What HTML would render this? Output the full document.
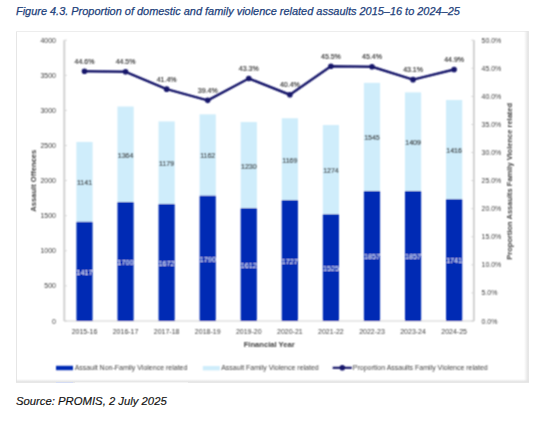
<!DOCTYPE html>
<html><head><meta charset="utf-8"><style>
html,body{margin:0;padding:0;background:#fff;width:538px;height:423px;overflow:hidden;}
body{position:relative;font-family:"Liberation Sans",sans-serif;}
.title{position:absolute;left:16px;top:5px;font-size:10.95px;font-style:italic;color:#21407a;white-space:nowrap;-webkit-text-stroke:0.25px #21407a;}
.src{position:absolute;left:16px;top:394.8px;font-size:11.3px;font-style:italic;color:#111;white-space:nowrap;-webkit-text-stroke:0.15px #111;}
.bl{position:absolute;left:16px;top:31px;width:1px;height:351px;background:#e6e6e6;}
.bt{position:absolute;left:16px;top:31px;width:513px;height:1px;background:#ededed;}
.br{position:absolute;left:524px;top:31px;width:5px;height:351px;background:linear-gradient(to right,rgba(230,230,230,0),#e4e4e4 80%,#e9e9e9);}
.bb{position:absolute;left:16px;top:378.5px;width:513px;height:4px;background:linear-gradient(to bottom,rgba(230,230,230,0),#e2e2e2 75%,#ececec);}
svg{position:absolute;left:0;top:0;}
svg text{font-family:"Liberation Sans",sans-serif;}
svg text.g{stroke:#3a3a3a;stroke-width:0.25;}
</style></head><body>
<div class="title">Figure 4.3. Proportion of domestic and family violence related assaults 2015–16 to 2024–25</div>
<div class="bl"></div><div class="bt"></div><div class="br"></div><div class="bb"></div>
<svg width="538" height="423" viewBox="0 0 538 423">
<defs><filter id="bl" x="0" y="0" width="538" height="423" filterUnits="userSpaceOnUse"><feConvolveMatrix order="3" kernelMatrix="1 2 1 2 4 2 1 2 1" edgeMode="none"/></filter></defs>
<g filter="url(#bl)">
<line x1="64.3" y1="40.2" x2="64.3" y2="321.0" stroke="#d2d2d2" stroke-width="2"/>
<line x1="473.9" y1="40.2" x2="473.9" y2="321.0" stroke="#d2d2d2" stroke-width="2"/>
<line x1="64.3" y1="321.0" x2="473.9" y2="321.0" stroke="#d2d2d2" stroke-width="1.2"/>
<line x1="64.3" y1="321.00" x2="66.8" y2="321.00" stroke="#d2d2d2" stroke-width="1"/>
<text x="56" y="323.50" text-anchor="end" font-size="7" fill="#404040">0</text>
<line x1="64.3" y1="285.90" x2="66.8" y2="285.90" stroke="#d2d2d2" stroke-width="1"/>
<text x="56" y="288.40" text-anchor="end" font-size="7" fill="#404040">500</text>
<line x1="64.3" y1="250.80" x2="66.8" y2="250.80" stroke="#d2d2d2" stroke-width="1"/>
<text x="56" y="253.30" text-anchor="end" font-size="7" fill="#404040">1000</text>
<line x1="64.3" y1="215.70" x2="66.8" y2="215.70" stroke="#d2d2d2" stroke-width="1"/>
<text x="56" y="218.20" text-anchor="end" font-size="7" fill="#404040">1500</text>
<line x1="64.3" y1="180.60" x2="66.8" y2="180.60" stroke="#d2d2d2" stroke-width="1"/>
<text x="56" y="183.10" text-anchor="end" font-size="7" fill="#404040">2000</text>
<line x1="64.3" y1="145.50" x2="66.8" y2="145.50" stroke="#d2d2d2" stroke-width="1"/>
<text x="56" y="148.00" text-anchor="end" font-size="7" fill="#404040">2500</text>
<line x1="64.3" y1="110.40" x2="66.8" y2="110.40" stroke="#d2d2d2" stroke-width="1"/>
<text x="56" y="112.90" text-anchor="end" font-size="7" fill="#404040">3000</text>
<line x1="64.3" y1="75.30" x2="66.8" y2="75.30" stroke="#d2d2d2" stroke-width="1"/>
<text x="56" y="77.80" text-anchor="end" font-size="7" fill="#404040">3500</text>
<line x1="64.3" y1="40.20" x2="66.8" y2="40.20" stroke="#d2d2d2" stroke-width="1"/>
<text x="56" y="42.70" text-anchor="end" font-size="7" fill="#404040">4000</text>
<line x1="471.4" y1="321.00" x2="473.9" y2="321.00" stroke="#d2d2d2" stroke-width="1"/>
<text x="481.5" y="323.50" font-size="7" fill="#404040">0.0%</text>
<line x1="471.4" y1="292.92" x2="473.9" y2="292.92" stroke="#d2d2d2" stroke-width="1"/>
<text x="481.5" y="295.42" font-size="7" fill="#404040">5.0%</text>
<line x1="471.4" y1="264.84" x2="473.9" y2="264.84" stroke="#d2d2d2" stroke-width="1"/>
<text x="481.5" y="267.34" font-size="7" fill="#404040">10.0%</text>
<line x1="471.4" y1="236.76" x2="473.9" y2="236.76" stroke="#d2d2d2" stroke-width="1"/>
<text x="481.5" y="239.26" font-size="7" fill="#404040">15.0%</text>
<line x1="471.4" y1="208.68" x2="473.9" y2="208.68" stroke="#d2d2d2" stroke-width="1"/>
<text x="481.5" y="211.18" font-size="7" fill="#404040">20.0%</text>
<line x1="471.4" y1="180.60" x2="473.9" y2="180.60" stroke="#d2d2d2" stroke-width="1"/>
<text x="481.5" y="183.10" font-size="7" fill="#404040">25.0%</text>
<line x1="471.4" y1="152.52" x2="473.9" y2="152.52" stroke="#d2d2d2" stroke-width="1"/>
<text x="481.5" y="155.02" font-size="7" fill="#404040">30.0%</text>
<line x1="471.4" y1="124.44" x2="473.9" y2="124.44" stroke="#d2d2d2" stroke-width="1"/>
<text x="481.5" y="126.94" font-size="7" fill="#404040">35.0%</text>
<line x1="471.4" y1="96.36" x2="473.9" y2="96.36" stroke="#d2d2d2" stroke-width="1"/>
<text x="481.5" y="98.86" font-size="7" fill="#404040">40.0%</text>
<line x1="471.4" y1="68.28" x2="473.9" y2="68.28" stroke="#d2d2d2" stroke-width="1"/>
<text x="481.5" y="70.78" font-size="7" fill="#404040">45.0%</text>
<line x1="471.4" y1="40.20" x2="473.9" y2="40.20" stroke="#d2d2d2" stroke-width="1"/>
<text x="481.5" y="42.70" font-size="7" fill="#404040">50.0%</text>
<rect x="76.40" y="141.94" width="16.2" height="79.87" fill="#cfedfb"/>
<rect x="76.40" y="221.81" width="16.2" height="99.19" fill="#002bb4"/>
<text x="84.50" y="274.60" text-anchor="middle" font-size="7.2" fill="#ffffff">1417</text>
<text x="84.50" y="185.28" text-anchor="middle" font-size="7" fill="#333" stroke="#333" stroke-width="0.15">1141</text>
<text x="84.50" y="331.8" dy="2.5" text-anchor="middle" font-size="7" fill="#404040">2015-16</text>
<rect x="117.47" y="106.52" width="16.2" height="95.48" fill="#cfedfb"/>
<rect x="117.47" y="202.00" width="16.2" height="119.00" fill="#002bb4"/>
<text x="125.57" y="264.70" text-anchor="middle" font-size="7.2" fill="#ffffff">1700</text>
<text x="125.57" y="157.66" text-anchor="middle" font-size="7" fill="#333" stroke="#333" stroke-width="0.15">1364</text>
<text x="125.57" y="331.8" dy="2.5" text-anchor="middle" font-size="7" fill="#404040">2016-17</text>
<rect x="158.54" y="121.43" width="16.2" height="82.53" fill="#cfedfb"/>
<rect x="158.54" y="203.96" width="16.2" height="117.04" fill="#002bb4"/>
<text x="166.64" y="265.68" text-anchor="middle" font-size="7.2" fill="#ffffff">1672</text>
<text x="166.64" y="166.09" text-anchor="middle" font-size="7" fill="#333" stroke="#333" stroke-width="0.15">1179</text>
<text x="166.64" y="331.8" dy="2.5" text-anchor="middle" font-size="7" fill="#404040">2017-18</text>
<rect x="199.61" y="114.36" width="16.2" height="81.34" fill="#cfedfb"/>
<rect x="199.61" y="195.70" width="16.2" height="125.30" fill="#002bb4"/>
<text x="207.71" y="261.55" text-anchor="middle" font-size="7.2" fill="#ffffff">1790</text>
<text x="207.71" y="158.43" text-anchor="middle" font-size="7" fill="#333" stroke="#333" stroke-width="0.15">1162</text>
<text x="207.71" y="331.8" dy="2.5" text-anchor="middle" font-size="7" fill="#404040">2018-19</text>
<rect x="240.68" y="122.06" width="16.2" height="86.10" fill="#cfedfb"/>
<rect x="240.68" y="208.16" width="16.2" height="112.84" fill="#002bb4"/>
<text x="248.78" y="267.78" text-anchor="middle" font-size="7.2" fill="#ffffff">1612</text>
<text x="248.78" y="168.51" text-anchor="middle" font-size="7" fill="#333" stroke="#333" stroke-width="0.15">1230</text>
<text x="248.78" y="331.8" dy="2.5" text-anchor="middle" font-size="7" fill="#404040">2019-20</text>
<rect x="281.75" y="118.28" width="16.2" height="81.83" fill="#cfedfb"/>
<rect x="281.75" y="200.11" width="16.2" height="120.89" fill="#002bb4"/>
<text x="289.85" y="263.75" text-anchor="middle" font-size="7.2" fill="#ffffff">1727</text>
<text x="289.85" y="162.59" text-anchor="middle" font-size="7" fill="#333" stroke="#333" stroke-width="0.15">1169</text>
<text x="289.85" y="331.8" dy="2.5" text-anchor="middle" font-size="7" fill="#404040">2020-21</text>
<rect x="322.82" y="125.07" width="16.2" height="89.18" fill="#cfedfb"/>
<rect x="322.82" y="214.25" width="16.2" height="106.75" fill="#002bb4"/>
<text x="330.92" y="270.82" text-anchor="middle" font-size="7.2" fill="#ffffff">1525</text>
<text x="330.92" y="173.06" text-anchor="middle" font-size="7" fill="#333" stroke="#333" stroke-width="0.15">1274</text>
<text x="330.92" y="331.8" dy="2.5" text-anchor="middle" font-size="7" fill="#404040">2021-22</text>
<rect x="363.89" y="82.86" width="16.2" height="108.15" fill="#cfedfb"/>
<rect x="363.89" y="191.01" width="16.2" height="129.99" fill="#002bb4"/>
<text x="371.99" y="259.20" text-anchor="middle" font-size="7.2" fill="#ffffff">1857</text>
<text x="371.99" y="140.34" text-anchor="middle" font-size="7" fill="#333" stroke="#333" stroke-width="0.15">1545</text>
<text x="371.99" y="331.8" dy="2.5" text-anchor="middle" font-size="7" fill="#404040">2022-23</text>
<rect x="404.96" y="92.38" width="16.2" height="98.63" fill="#cfedfb"/>
<rect x="404.96" y="191.01" width="16.2" height="129.99" fill="#002bb4"/>
<text x="413.06" y="259.20" text-anchor="middle" font-size="7.2" fill="#ffffff">1857</text>
<text x="413.06" y="145.09" text-anchor="middle" font-size="7" fill="#333" stroke="#333" stroke-width="0.15">1409</text>
<text x="413.06" y="331.8" dy="2.5" text-anchor="middle" font-size="7" fill="#404040">2023-24</text>
<rect x="446.03" y="100.01" width="16.2" height="99.12" fill="#cfedfb"/>
<rect x="446.03" y="199.13" width="16.2" height="121.87" fill="#002bb4"/>
<text x="454.13" y="263.26" text-anchor="middle" font-size="7.2" fill="#ffffff">1741</text>
<text x="454.13" y="152.97" text-anchor="middle" font-size="7" fill="#333" stroke="#333" stroke-width="0.15">1416</text>
<text x="454.13" y="331.8" dy="2.5" text-anchor="middle" font-size="7" fill="#404040">2024-25</text>
<polyline points="84.50,71.24 125.57,71.80 166.64,89.16 207.71,100.36 248.78,78.52 289.85,94.76 330.92,66.20 371.99,66.76 413.06,79.64 454.13,69.56" fill="none" stroke="#16166a" stroke-width="2.5" stroke-linejoin="round"/>
<circle cx="84.50" cy="71.24" r="2.8" fill="#16166a"/>
<text x="84.50" y="63.84" text-anchor="middle" font-size="7" fill="#333" stroke="#333" stroke-width="0.15">44.6%</text>
<circle cx="125.57" cy="71.80" r="2.8" fill="#16166a"/>
<text x="125.57" y="64.40" text-anchor="middle" font-size="7" fill="#333" stroke="#333" stroke-width="0.15">44.5%</text>
<circle cx="166.64" cy="89.16" r="2.8" fill="#16166a"/>
<text x="166.64" y="81.76" text-anchor="middle" font-size="7" fill="#333" stroke="#333" stroke-width="0.15">41.4%</text>
<circle cx="207.71" cy="100.36" r="2.8" fill="#16166a"/>
<text x="207.71" y="92.96" text-anchor="middle" font-size="7" fill="#333" stroke="#333" stroke-width="0.15">39.4%</text>
<circle cx="248.78" cy="78.52" r="2.8" fill="#16166a"/>
<text x="248.78" y="71.12" text-anchor="middle" font-size="7" fill="#333" stroke="#333" stroke-width="0.15">43.3%</text>
<circle cx="289.85" cy="94.76" r="2.8" fill="#16166a"/>
<text x="289.85" y="87.36" text-anchor="middle" font-size="7" fill="#333" stroke="#333" stroke-width="0.15">40.4%</text>
<circle cx="330.92" cy="66.20" r="2.8" fill="#16166a"/>
<text x="330.92" y="58.80" text-anchor="middle" font-size="7" fill="#333" stroke="#333" stroke-width="0.15">45.5%</text>
<circle cx="371.99" cy="66.76" r="2.8" fill="#16166a"/>
<text x="371.99" y="59.36" text-anchor="middle" font-size="7" fill="#333" stroke="#333" stroke-width="0.15">45.4%</text>
<circle cx="413.06" cy="79.64" r="2.8" fill="#16166a"/>
<text x="413.06" y="72.24" text-anchor="middle" font-size="7" fill="#333" stroke="#333" stroke-width="0.15">43.1%</text>
<circle cx="454.13" cy="69.56" r="2.8" fill="#16166a"/>
<text x="454.13" y="62.16" text-anchor="middle" font-size="7" fill="#333" stroke="#333" stroke-width="0.15">44.9%</text>
<text x="269.2" y="344" dy="2.6" text-anchor="middle" font-size="7.6" font-weight="bold" fill="#404040">Financial Year</text>
<text transform="translate(33,180.7) rotate(-90)" dy="2.6" text-anchor="middle" font-size="7.6" font-weight="bold" fill="#404040">Assault Offences</text>
<text transform="translate(509,181.3) rotate(-90)" dy="2.6" text-anchor="middle" font-size="7.5" font-weight="bold" fill="#404040">Proportion Assaults Family Violence related</text>
<rect x="56" y="365.8" width="17" height="4.4" fill="#002bb4"/>
<text x="74.7" y="367.8" dy="2.5" font-size="7" fill="#404040">Assault Non-Family Violence related</text>
<rect x="202.8" y="366" width="17" height="4.4" fill="#cfedfb"/>
<text x="221.2" y="367.8" dy="2.5" font-size="7" fill="#404040">Assault Family Violence related</text>
<line x1="332.7" y1="367.8" x2="351.8" y2="367.8" stroke="#16166a" stroke-width="2.2"/>
<circle cx="342.3" cy="367.8" r="2.8" fill="#16166a"/>
<text x="352.8" y="367.8" dy="2.5" font-size="7" fill="#404040">Proportion Assaults Family Violence related</text>
</g>
</svg>
<div style="position:absolute;left:56px;top:382px;width:17px;height:1px;background:#d4dcf4"></div><div style="position:absolute;left:75px;top:382px;width:113px;height:1px;background:#f4f4f4"></div>
<div class="src">Source: PROMIS, 2 July 2025</div>
</body></html>
